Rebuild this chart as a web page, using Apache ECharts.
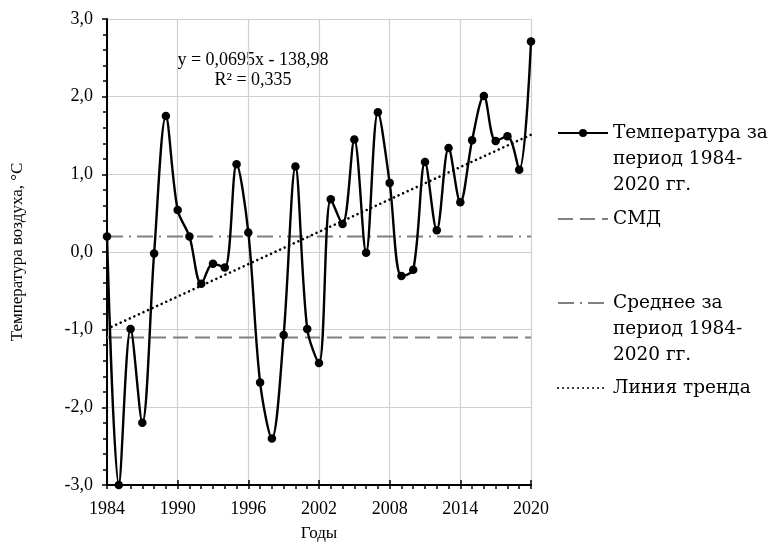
<!DOCTYPE html>
<html>
<head>
<meta charset="utf-8">
<script src="https://cdn.jsdelivr.net/npm/echarts@6/dist/echarts.min.js"></script>
<style>
html,body{margin:0;padding:0;background:#fff;}
#chart{width:771px;height:542px;}
</style>
</head>
<body>
<div id="chart"></div>
<script>
// ---- data ----
const years = ['1984','1985','1986','1987','1988','1989','1990','1991','1992','1993','1994','1995','1996','1997','1998','1999','2000','2001','2002','2003','2004','2005','2006','2007','2008','2009','2010','2011','2012','2013','2014','2015','2016','2017','2018','2019','2020'];
const temps = [0.2, -3.0, -0.99, -2.2, -0.02, 1.75, 0.54, 0.2, -0.41, -0.15, -0.2, 1.13, 0.25, -1.68, -2.4, -1.07, 1.1, -0.99, -1.43, 0.68, 0.36, 1.45, -0.01, 1.8, 0.89, -0.31, -0.23, 1.16, 0.28, 1.34, 0.64, 1.44, 2.01, 1.43, 1.49, 1.06, 2.71];
const smdYears = ['1984', '2020'];
const smdValues = [-1.1, -1.1];
const meanYears = ['1984', '2020'];
const meanValues = [0.2, 0.2];
const trendYears = ['1984', '2020'];
const trendValues = [-0.99, 1.51];
const seriesNames = ['Температура за период 1984-2020 гг.', 'СМД', 'Среднее за период 1984-2020 гг.', 'Линия тренда'];
const legendLines = [['Температура за', 'период 1984-', '2020 гг.'], ['СМД'], ['Среднее за', 'период 1984-', '2020 гг.'], ['Линия тренда']];
const equationLines = ['y = 0,0695x - 138,98', 'R² = 0,335'];
const yAxisTitle = 'Температура воздуха, °C';
const xAxisTitle = 'Годы';

// ---- chart ----
const serif = '"Liberation Serif", "Times New Roman", serif';
const legendFont = '"DejaVu Serif", serif';
const LH = 26;
const legendCenters = [133, 219, 303, 388];

function pairs(xs, vs) { return xs.map((x, i) => [x, vs[i]]); }

const legends = seriesNames.map((name, i) => {
  const lines = legendLines[i];
  const pad = [];
  for (let k = 0; k < lines.length - 1; k++) pad.push('');
  const total = lines.length * 2 - 1;
  const cfg = {
    data: [name],
    left: 557,
    top: legendCenters[i] - total * LH / 2,
    padding: 0,
    itemWidth: 50,
    itemHeight: 10,
    itemGap: 0,
    selectedMode: false,
    formatter: () => pad.concat(lines).join('\n'),
    textStyle: { fontFamily: legendFont, fontSize: 18.5, lineHeight: LH, color: '#000' }
  };
  if (i > 0) {
    cfg.itemStyle = { color: 'rgba(0,0,0,0)', borderWidth: 0, opacity: 0 };
  }
  return cfg;
});

const chart = echarts.init(document.getElementById('chart'), null, { renderer: 'canvas' });
chart.setOption({
  animation: false,
  backgroundColor: '#fff',
  grid: { left: 107, right: 240, top: 19, bottom: 57, containLabel: false, outerBoundsMode: 'none' },
  legend: legends,
  xAxis: [{
    type: 'category',
    data: years,
    boundaryGap: false,
    name: xAxisTitle,
    nameLocation: 'middle',
    nameGap: 40,
    nameTextStyle: { fontFamily: serif, fontSize: 17, color: '#000' },
    axisLine: { onZero: false, lineStyle: { color: '#000', width: 2 } },
    axisTick: { show: true, interval: 0, length: 4, lineStyle: { color: '#000', width: 1.5 } },
    axisLabel: { interval: 5, margin: 15, fontFamily: serif, fontSize: 18, color: '#000' },
    splitLine: { show: true, interval: 5, lineStyle: { color: '#d0d0d0', width: 1.2 } }
  }, {
    type: 'category',
    data: years,
    boundaryGap: false,
    position: 'bottom',
    axisLine: { show: false, onZero: false },
    axisTick: { show: true, interval: 5, inside: true, length: 5, lineStyle: { color: '#000', width: 1.5 } },
    axisLabel: { show: false },
    splitLine: { show: false }
  }],
  yAxis: {
    type: 'value',
    min: -3,
    max: 3,
    interval: 1,
    name: yAxisTitle,
    nameLocation: 'middle',
    nameGap: 81,
    nameTextStyle: { fontFamily: serif, fontSize: 17, color: '#000' },
    axisLine: { show: true, onZero: false, lineStyle: { color: '#000', width: 2 } },
    axisTick: { show: true, length: 5, lineStyle: { color: '#000', width: 1.5 } },
    minorTick: { show: true, splitNumber: 5, length: 4, lineStyle: { color: '#000', width: 1.5 } },
    axisLabel: {
      margin: 14, fontFamily: serif, fontSize: 18, color: '#000',
      formatter: v => v.toFixed(1).replace('.', ',')
    },
    splitLine: { show: true, lineStyle: { color: '#d0d0d0', width: 1.2 } }
  },
  graphic: [{
    type: 'text',
    x: 253,
    y: 50,
    style: {
      text: equationLines.join('\n'),
      fontFamily: serif, fontSize: 18, lineHeight: 20.5,
      fill: '#000', align: 'center', verticalAlign: 'top'
    }
  }],
  series: [{
    name: seriesNames[0],
    type: 'line',
    data: temps,
    smooth: 0.33,
    symbol: 'circle',
    symbolSize: 8.5,
    showAllSymbol: true,
    lineStyle: { color: '#000', width: 2.4 },
    itemStyle: { color: '#000' },
    z: 5
  }, {
    name: seriesNames[1],
    type: 'line',
    data: pairs(smdYears, smdValues),
    symbol: 'none',
    lineStyle: { color: '#808080', width: 2, type: [15, 7] },
    itemStyle: { color: '#808080' },
    z: 2
  }, {
    name: seriesNames[2],
    type: 'line',
    data: pairs(meanYears, meanValues),
    symbol: 'none',
    lineStyle: { color: '#808080', width: 2, type: [16, 6, 2, 6] },
    itemStyle: { color: '#808080' },
    z: 2
  }, {
    name: seriesNames[3],
    type: 'line',
    data: pairs(trendYears, trendValues),
    symbol: 'none',
    lineStyle: { color: '#000', width: 2.6, type: [0.01, 5], cap: 'round' },
    itemStyle: { color: '#000' },
    z: 3
  }]
});
</script>
</body>
</html>
